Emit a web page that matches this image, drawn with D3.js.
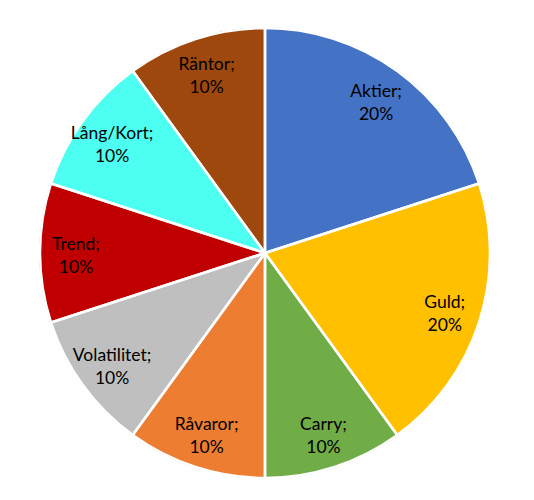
<!DOCTYPE html>
<html><head><meta charset="utf-8">
<script src="https://cdn.jsdelivr.net/npm/d3@7"></script>
<style>body{margin:0;background:#fff}</style>
</head><body>
<svg id="c" width="534" height="500"></svg>
<script>
const categories = ["Aktier","Guld","Carry","Råvaror","Volatilitet","Trend","Lång/Kort","Räntor"];
const values = [20,20,10,10,10,10,10,10];
const colors = ["#4472C4","#FFC000","#70AD47","#ED7D31","#BFBFBF","#C00000","#4DFFF0","#9E480E"];

const svg = d3.select("#c");
const cx = 265, cy = 253, r = 225;
const g = svg.append("g").attr("transform",`translate(${cx},${cy})`);
const data = categories.map((c,i)=>({c, v:values[i], col:colors[i]}));
const pie = d3.pie().value(d=>d.v).sort(null);
const arcs = pie(data);
const arc = d3.arc().innerRadius(0).outerRadius(r);
g.selectAll("path.s").data(arcs).join("path")
  .attr("d",arc).attr("fill",d=>d.data.col)
  .attr("stroke",d=>d3.color(d.data.col).darker(0.6)).attr("stroke-width",1.5);
g.selectAll("path.w").data(arcs).join("path")
  .attr("d",arc).attr("fill","none").attr("stroke","#fff").attr("stroke-width",2.5)
  .attr("stroke-linejoin","round");
const la = d3.arc().innerRadius(r*0.84).outerRadius(r*0.84);
const lbl = g.selectAll("text").data(arcs).join("text")
  .attr("transform",d=>`translate(${la.centroid(d)})`)
  .attr("text-anchor","middle")
  .attr("font-family","Lato, 'Open Sans', sans-serif").attr("font-size",17.5).attr("fill","#000");
lbl.append("tspan").attr("x",0).attr("y",-3).text(d=>d.data.c+";");
lbl.append("tspan").attr("x",0).attr("y",20).text(d=>d.data.v+"%");
</script>
</body></html>
